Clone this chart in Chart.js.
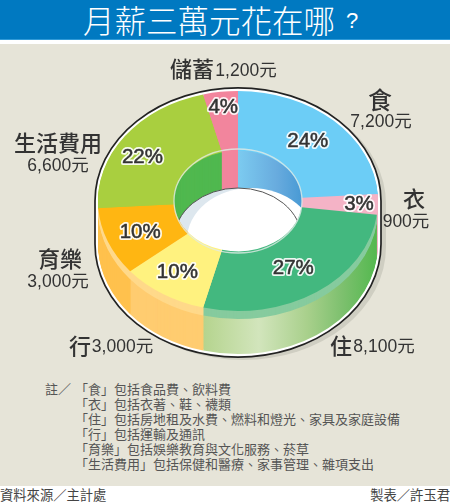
<!DOCTYPE html>
<html lang="zh-Hant"><head><meta charset="utf-8">
<script src="https://cdn.jsdelivr.net/npm/chart.js@4"></script>
<style>
html,body{margin:0;padding:0;background:#fff}
#page{position:relative;width:450px;height:504px;overflow:hidden;background:#E6E4D8;font-family:"Noto Sans CJK TC","Noto Sans",sans-serif}
#band{position:absolute;left:0;top:0;width:450px;height:39px;background:#0079C1;border-bottom:1px solid #2F9AD8}
#gap{position:absolute;left:0;top:40px;width:450px;height:4px;background:#fff}
#title{position:absolute;left:83px;top:-1px;height:40px;line-height:40px;color:#fff;font-size:31.5px;font-weight:300;white-space:nowrap}
#q{position:absolute;left:346px;top:3px;line-height:36px;color:#fff;font-size:22px;font-family:"Liberation Sans",sans-serif}
#foot{position:absolute;left:0;top:486px;width:450px;height:18px;background:#fff}
#src,#by{position:absolute;top:-1px;font-size:13.3px;line-height:20px;color:#444;white-space:nowrap}
#src{left:0}#by{right:0}
.note{position:absolute;font-size:13px;line-height:15px;color:#555;white-space:nowrap}
canvas{position:absolute;left:0;top:0}
</style></head><body>
<div id="page">
<div id="band"></div><div id="gap"></div><div id="title"></div><div id="q"></div>
<div id="foot"><div id="src"></div><div id="by"></div></div>
<div id="notes"></div>
<canvas id="c" width="450" height="504"></canvas>
</div>
<script>
// ---- data ----
const titleText = "月薪三萬元花在哪";
const categories = ["食","衣","住","行","育樂","生活費用","儲蓄"];
const amounts = [7200,900,8100,3000,3000,6600,1200];
const percents = ["24%","3%","27%","10%","10%","22%","4%"];
const amountLabels = ["7,200元","900元","8,100元","3,000元","3,000元","6,600元","1,200元"];
const noteLead = "註／";
const notes = ["「食」包括食品費、飲料費","「衣」包括衣著、鞋、襪類","「住」包括房地租及水費、燃料和燈光、家具及家庭設備","「行」包括運輸及通訊","「育樂」包括娛樂教育與文化服務、菸草","「生活費用」包括保健和醫療、家事管理、雜項支出"];
const sourceText = "資料來源／主計處";
const creditText = "製表／許玉君";

// ---- style and layout ----
const topColors  = ["#6CCDF6","#F4B3C6","#43B87F","#FFF27F","#FFB612","#A9CF3F","#F2859D"];
const rimColors  = ["#6CCDF6","#F4B3C6","#86CB9E","#FFD98A","#FFD98A","#A9CF3F","#F2859D"];
const sideColors = ["#6CCDF6","#F4B3C6","GREEN","#FFCC70","#FFC14D","#A9CF3F","#F2859D"];
const wallColors = ["BLUE","#F2859D","#50B84F","#DDE7EE","#DDE7EE","#50B84F","#F2859D"];
const percentNudge = [[0,-1],[19,1],[-2,1],[-6,4],[-3,2],[-13,3],[-2,-14]];
const CX=238, CY=201, RX=140, SQUASH=0.786, DEPTH=43, RIM=8, HOLE_RX=64, HOLE_RY=52, LABEL_R=102;
const labelSpots=[
 {n:[380,100,24],a:[381,122]},
 {n:[414,199,22],a:[406,222]},
 {n:[341,346,22],a:[384,347]},
 {n:[80,346,22],a:[122.5,347]},
 {n:[60,259,22],a:[58,282]},
 {n:[58,143,22],a:[58,166]},
 {n:[192,69,22],a:[246,71]}
];

document.getElementById('title').textContent=titleText;
document.getElementById('q').textContent="?";
document.getElementById('src').textContent=sourceText;
document.getElementById('by').textContent=creditText;
const nb=document.getElementById('notes');
const lead=document.createElement('div');lead.className='note';lead.style.cssText='left:45px;top:381px';lead.textContent=noteLead;nb.appendChild(lead);
const noteTops=[381,396,411,426,441,456];
notes.forEach((t,i)=>{const d=document.createElement('div');d.className='note';d.style.left='75px';d.style.top=noteTops[i]+'px';d.textContent=t;nb.appendChild(d);});

function ell(ctx,x,y,rx,ry){ctx.beginPath();ctx.ellipse(x,y,rx,ry,0,0,Math.PI*2);}
function squash(ctx,dy){ctx.translate(0,CY+dy);ctx.scale(1,SQUASH);ctx.translate(0,-CY);}
function paintArc(ctx,el,color){
  const o=el.options, tmp=Object.create(o);
  tmp.backgroundColor=color; tmp.borderWidth=0;
  el.options=tmp; el.draw(ctx); el.options=o;
}
const donut3d={
  id:'donut3d',
  beforeDatasetsDraw(chart){
    const ctx=chart.ctx, arcs=chart.getDatasetMeta(0).data, ry=RX*SQUASH;
    const green=ctx.createLinearGradient(200,0,378,0);
    green.addColorStop(0,"#B3D38B");green.addColorStop(.33,"#D2E5BC");green.addColorStop(.6,"#A9D08C");green.addColorStop(.8,"#7DC06E");green.addColorStop(1,"#52B84E");
    const blue=ctx.createLinearGradient(238,0,303,0);
    blue.addColorStop(0,"#7CCBF0");blue.addColorStop(.6,"#68ABDE");blue.addColorStop(1,"#4799D4");
    const pick=c=>c==="GREEN"?green:c==="BLUE"?blue:c;
    // soft shadow
    ctx.save();ctx.fillStyle="#CFCEC2";ctx.beginPath();
    ctx.ellipse(CX+5,CY+DEPTH+3,RX+3,ry+3,0,0,Math.PI);ctx.ellipse(CX+5,CY+3,RX+3,ry+3,0,Math.PI,Math.PI*2);ctx.fill();ctx.restore();
    // outlined silhouette
    ctx.save();ctx.beginPath();
    ctx.ellipse(CX,CY+DEPTH,RX+3,ry+3,0,0,Math.PI);ctx.ellipse(CX,CY,RX+3,ry+3,0,Math.PI,Math.PI*2);ctx.closePath();
    ctx.fillStyle="#fff";ctx.fill();ctx.lineWidth=1.7;ctx.strokeStyle="#222";ctx.stroke();ctx.restore();
    // extruded body
    for(let d=DEPTH;d>=1;d--){
      ctx.save();squash(ctx,d);
      arcs.forEach((el,i)=>paintArc(ctx,el,pick(d<=RIM?rimColors[i]:sideColors[i])));
      ctx.restore();
    }
    // inside of the hole
    ctx.save();ell(ctx,CX,CY,HOLE_RX,HOLE_RY);ctx.clip();
    ctx.fillStyle="#DDE7EE";ctx.fill();
    for(let d=DEPTH;d>=1;d--){
      ctx.save();squash(ctx,d);
      arcs.forEach((el,i)=>paintArc(ctx,el,pick(wallColors[i])));
      ctx.restore();
    }
    ell(ctx,CX,CY+39,HOLE_RX,HOLE_RY);ctx.fillStyle="#DDE7EE";ctx.fill();
    ell(ctx,CX+13,CY+39,HOLE_RX,HOLE_RY);ctx.fillStyle="#fff";ctx.fill();
    ell(ctx,CX,CY+39,HOLE_RX,HOLE_RY);ctx.lineWidth=1;ctx.strokeStyle="#555";ctx.stroke();
    ctx.restore();
    // top face is then drawn by Chart.js under the same squash
    ctx.save();squash(ctx,0);
  },
  afterDatasetsDraw(chart){
    const ctx=chart.ctx, arcs=chart.getDatasetMeta(0).data;
    ctx.restore();
    ctx.save();ell(ctx,CX,CY,HOLE_RX,HOLE_RY);ctx.lineWidth=1.3;ctx.strokeStyle="rgba(225,235,230,.8)";ctx.stroke();ctx.restore();
    ctx.save();ctx.textAlign='center';ctx.textBaseline='middle';ctx.lineJoin='round';
    // percent labels
    ctx.font='20.5px "Liberation Sans",sans-serif';
    arcs.forEach((el,i)=>{
      const a=(el.startAngle+el.endAngle)/2, n=percentNudge[i];
      const x=el.x+Math.cos(a)*LABEL_R+n[0], y=CY+Math.sin(a)*LABEL_R*SQUASH+n[1];
      ctx.lineWidth=4;ctx.strokeStyle="rgba(255,255,255,.9)";ctx.strokeText(percents[i],x,y);
      ctx.lineWidth=.5;ctx.strokeStyle="#333";ctx.strokeText(percents[i],x,y);
      ctx.fillStyle="#333";ctx.fillText(percents[i],x,y);
    });
    // category and amount labels
    categories.forEach((c,i)=>{
      const s=labelSpots[i];
      ctx.fillStyle="#333";ctx.font='500 '+s.n[2]+'px "Noto Sans CJK TC",sans-serif';
      ctx.fillText(c,s.n[0],s.n[1]);
      ctx.font='17.5px "Liberation Sans","Noto Sans CJK TC",sans-serif';
      ctx.fillText(amountLabels[i],s.a[0],s.a[1]);
    });
    ctx.restore();
  }
};
new Chart(document.getElementById('c'),{
  type:'doughnut',
  data:{labels:categories,datasets:[{data:amounts,backgroundColor:topColors,borderWidth:0,clip:false}]},
  options:{responsive:false,animation:false,cutout:(HOLE_RX/RX*100)+'%',radius:RX,rotation:0,
    layout:{padding:{left:CX-RX,right:450-CX-RX,top:CY-RX,bottom:504-CY-RX}},
    plugins:{legend:{display:false},tooltip:{enabled:false}}},
  plugins:[donut3d]
});
</script>
</body></html>
